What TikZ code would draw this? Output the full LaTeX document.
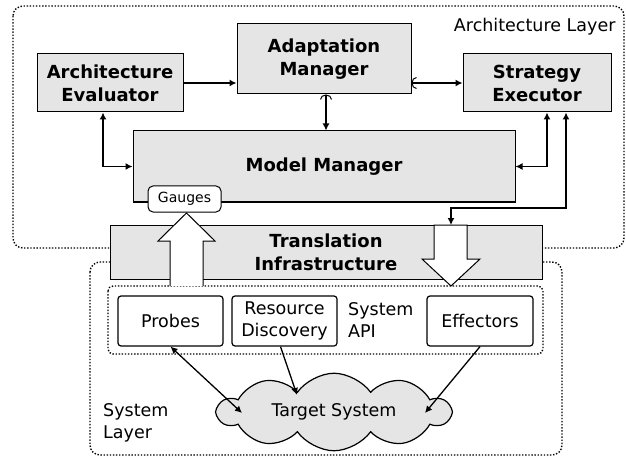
\documentclass[tikz,border=0pt]{standalone}
\usepackage{fontspec}
\setmainfont{DejaVu Sans}
\usetikzlibrary{arrows.meta,shapes.symbols}

\tikzset{
  comp/.style={draw, fill=gray!20, font=\bfseries\fontsize{18}{23}\selectfont, align=center, inner sep=0pt, line width=1pt},
  api/.style={draw, fill=white, rounded corners=3pt, font=\fontsize{17.5}{22}\selectfont, align=center, inner sep=0pt, line width=1.2pt},
  layer/.style={dash pattern=on 1.4pt off 1.7pt, line width=1.4pt, rounded corners=10pt},
  conn/.style={line width=1.3pt, {Latex[length=7pt,width=7pt]}-{Latex[length=7pt,width=7pt]}},
  bigarrow/.style={draw, fill=white, line width=1pt, line join=miter}
}

\begin{document}
\begin{tikzpicture}[x=1pt, y=-1pt]
\useasboundingbox (0,0) rectangle (626,457);

% layers
\draw[layer] (13,6) rectangle (624,248);
\node[anchor=east, font=\fontsize{17.5}{22}\selectfont] (archlbl) at (619,27) {Architecture Layer};
\draw[layer, fill=white] (90,262) rectangle (562,455);

% architecture layer
\node[comp, minimum width=146pt, minimum height=58pt] (eval) at (110,83) {Architecture\\Evaluator};
\node[comp, minimum width=174pt, minimum height=70pt] (adapt) at (324,59) {Adaptation\\Manager};
\node[comp, minimum width=148pt, minimum height=58pt] (exec) at (537,83) {Strategy\\Executor};
\node[comp, minimum width=382pt, minimum height=71pt] (model) at (324,166.5) {\raisebox{3pt}{Model Manager}};
\node[draw, fill=white, rounded corners=5pt, minimum width=73pt, minimum height=26pt, inner sep=0pt, line width=1pt, font=\fontsize{14}{17}\selectfont] (gauges) at (184.5,199) {Gauges};

% translation
\node[comp, minimum width=432pt, minimum height=54pt] (trans) at (326,252) {Translation\\Infrastructure};

% system layer
\draw[layer, rounded corners=5pt] (108,286) rectangle (543,354);
\node[api, minimum width=105pt, minimum height=50pt] (probes) at (170.5,321) {Probes};
\node[api, minimum width=105pt, minimum height=50pt] (disc) at (284.5,321) {Resource\\Discovery};
\node[api, minimum width=106pt, minimum height=50pt] (eff) at (480,321) {Effectors};
\node[anchor=west, align=left, font=\fontsize{17.5}{22}\selectfont, inner sep=0pt] (apilbl) at (348,320) {System\\API};
\node[cloud, cloud puffs=10, cloud puff arc=110, aspect=3.6, draw, fill=gray!20, line width=1.2pt, inner sep=2pt, minimum width=232pt, minimum height=64pt, font=\fontsize{17.5}{22}\selectfont] (target) at (334,412) {Target System};
\node[anchor=west, align=left, font=\fontsize{17.5}{22}\selectfont, inner sep=0pt] (syslbl) at (103,423) {System\\Layer};

% block arrows
\draw[bigarrow] (170,286) -- (170,241) -- (158,241) -- (186.5,213) -- (215,241) -- (203,241) -- (203,286);
\draw[bigarrow] (434,225) -- (434,259) -- (422,259) -- (451,286) -- (480,259) -- (467,259) -- (467,225) -- cycle;
\coordinate (dn) at (451,225);

% connectors
\draw[line width=1.3pt, -{Latex[length=7pt,width=7pt]}] (eval.east) -- (adapt.west |- eval.east);
\draw[line width=1.3pt, {Arc Barb[length=5pt,width=12pt,line width=1pt]}-{Latex[length=7pt,width=7pt]}] (adapt.east |- exec.west) -- (exec.west);
\draw[line width=1.3pt, {Arc Barb[length=5pt,width=12pt,line width=1pt]}-{Latex[length=7pt,width=7pt]}] ([xshift=2pt]adapt.south) -- ([xshift=2pt]adapt.south |- model.north);
\draw[conn] ([xshift=-7pt]eval.south) |- (model.west);
\draw[conn] ([xshift=10pt]exec.south) |- (model.east);
\draw[conn] ([xshift=29pt]exec.south) |- (451,208) -- (dn);
\draw[conn] (probes.south) -- (242,413);
\draw[line width=1.3pt, -{Latex[length=7pt,width=7pt]}] ([xshift=-4pt]disc.south) -- (297,395);
\draw[line width=1.3pt, -{Latex[length=7pt,width=7pt]}] (eff.south) -- (425,413);
\end{tikzpicture}
\end{document}
